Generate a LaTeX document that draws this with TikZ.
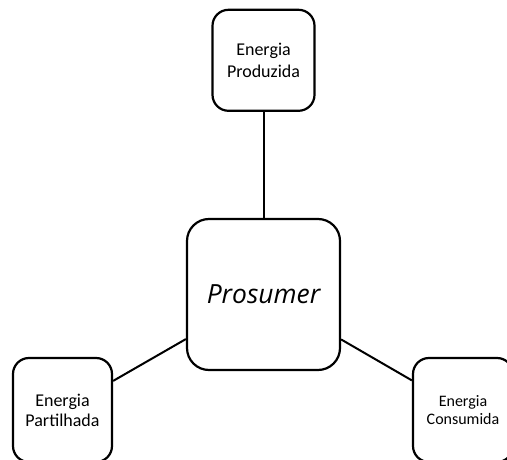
\documentclass[tikz,border=0pt]{standalone}
\usepackage{fontspec}
\setmainfont{Carlito}
\newfontfamily\prosumerfont{Open Sans}
\usetikzlibrary{positioning}

\begin{document}
\begin{tikzpicture}
  [
   node distance=53pt,
   box/.style={rectangle,rounded corners=8pt,line width=1.1pt,draw=black,fill=white,
               align=center,inner sep=1pt,font=\fontsize{9}{11}\selectfont},
   core/.style={box,rounded corners=11pt,minimum width=76.5pt,minimum height=75.5pt,
                font=\fontsize{13.2}{15}\prosumerfont\itshape},
   link/.style={line width=1pt}
  ]
   \useasboundingbox (0pt,0pt) rectangle (253.5pt,-229.5pt);
   \clip (0pt,0pt) rectangle (253.5pt,-229.5pt);

   \node[core] (prosumer) at (131.75pt,-147.25pt) {Prosumer};
   \node[box,minimum width=51pt,minimum height=50.5pt] (produzida) [above=of prosumer] {Energia\\Produzida};
   \node[box,minimum width=49.5pt,minimum height=52pt,font=\fontsize{9}{10}\selectfont]
        (partilhada) at (31.25pt,-205pt) {Energia\\Partilhada};
   \node[box,minimum width=50pt,minimum height=52pt,font=\fontsize{8}{9}\selectfont]
        (consumida) at (231.5pt,-205pt) {Energia\\Consumida};

   \draw[link] (prosumer) -- (produzida);
   \draw[link] (prosumer) -- (partilhada);
   \draw[link] (prosumer) -- (consumida);

\end{tikzpicture}
\end{document}
